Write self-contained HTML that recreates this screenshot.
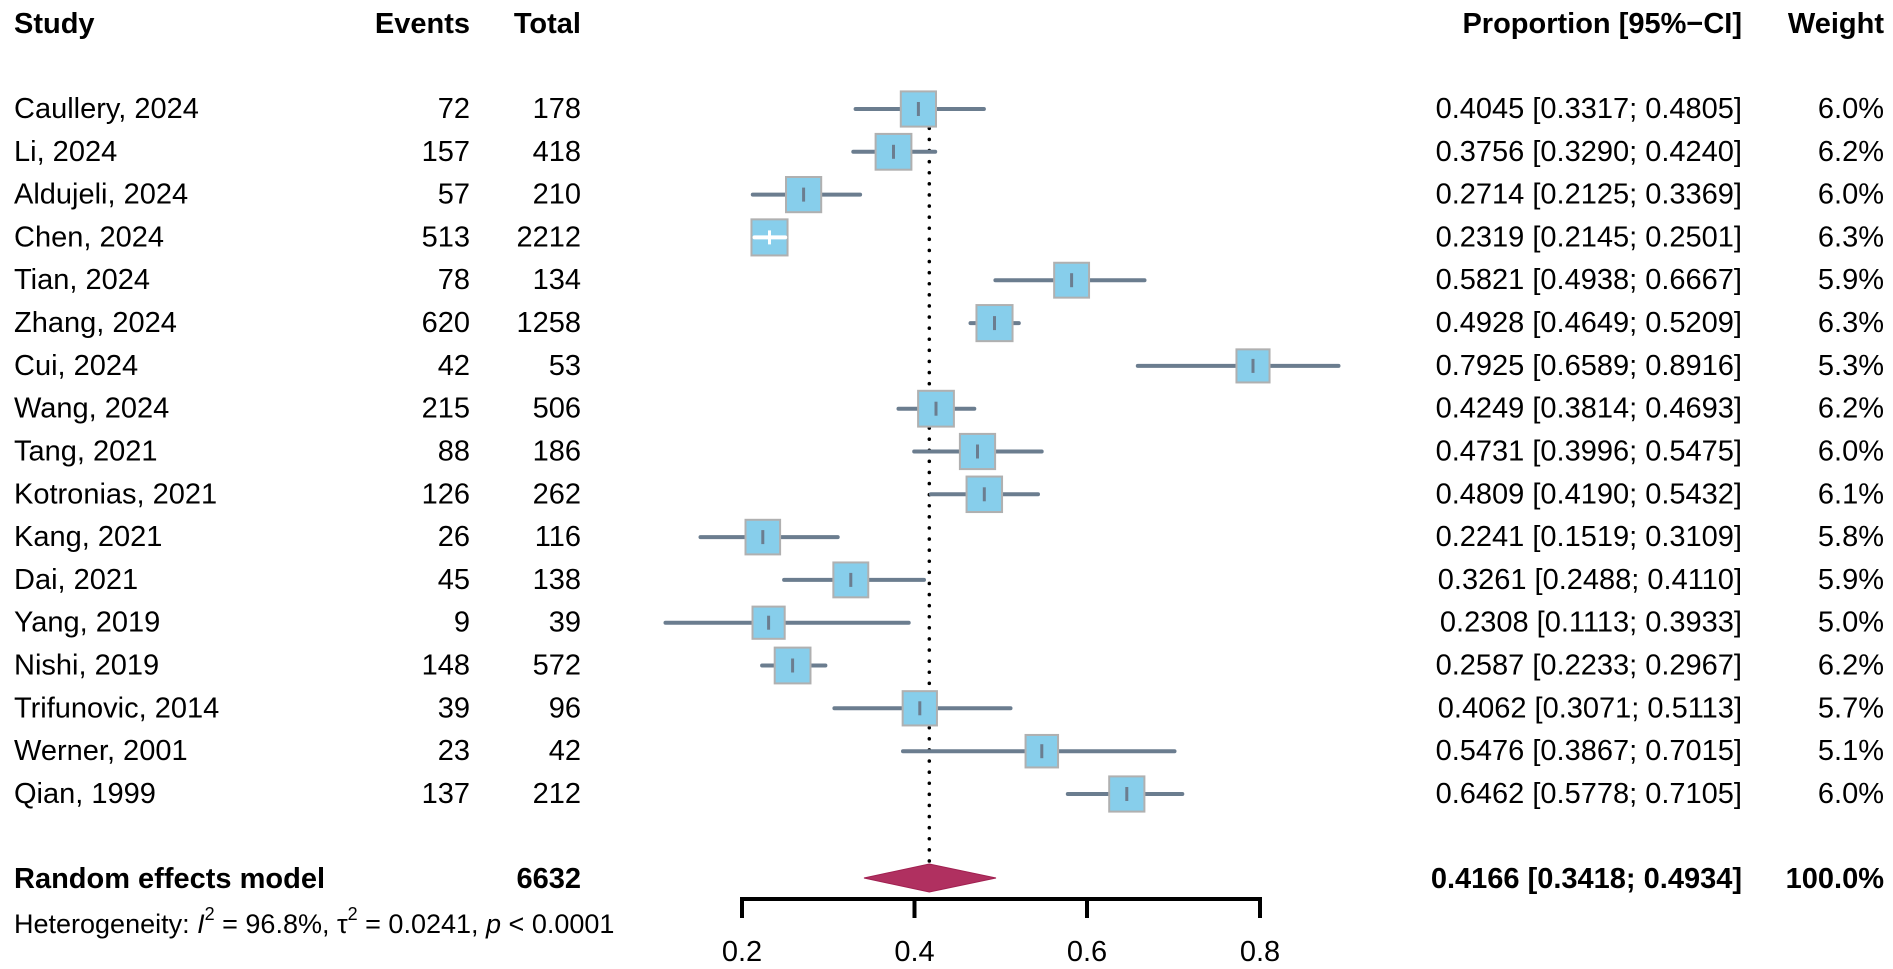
<!DOCTYPE html>
<html><head><meta charset="utf-8"><style>
html,body{margin:0;padding:0;background:#fff;}
svg{display:block;}
text{font-family:"Liberation Sans",Arial,sans-serif;font-size:29px;fill:#000;dominant-baseline:central;}
.b{font-weight:bold;}
.e{text-anchor:end;}
rect{fill:#87ceeb;stroke:#b0b0b0;stroke-width:2;}
.ci{stroke:#6b7d8f;stroke-width:4;stroke-linecap:round;}
.t{stroke:#6b7d8f;stroke-width:3;}
.w{stroke:#fff;}
</style></head><body>
<svg width="1893" height="969" viewBox="0 0 1893 969" xmlns="http://www.w3.org/2000/svg">
<text x="14" y="24" class="b">Study</text>
<text x="470" y="24" class="b e">Events</text>
<text x="581" y="24" class="b e">Total</text>
<text x="1742" y="24" class="b e">Proportion [95%−CI]</text>
<text x="1884" y="24" class="b e">Weight</text>
<line x1="929.3" y1="95" x2="929.3" y2="862" stroke="#000" stroke-width="3.5" stroke-dasharray="0.1 11" stroke-linecap="round"/>

<line class="ci" x1="855.6" y1="109" x2="983.9" y2="109"/><rect x="900.8" y="91.4" width="35.2" height="35.2"/><line class="t" x1="918.4" y1="102" x2="918.4" y2="116"/>
<line class="ci" x1="853.3" y1="151.8" x2="935.2" y2="151.8"/><rect x="875.6" y="133.9" width="35.8" height="35.8"/><line class="t" x1="893.5" y1="144.8" x2="893.5" y2="158.8"/>
<line class="ci" x1="752.8" y1="194.6" x2="860.1" y2="194.6"/><rect x="786" y="177" width="35.2" height="35.2"/><line class="t" x1="803.6" y1="187.6" x2="803.6" y2="201.6"/>
<rect x="751.45" y="219.35" width="36.1" height="36.1"/><line class="ci w" x1="754.5" y1="237.4" x2="785.2" y2="237.4"/><line class="t w" x1="769.5" y1="230.4" x2="769.5" y2="244.4"/>
<line class="ci" x1="995.4" y1="280.2" x2="1144.5" y2="280.2"/><rect x="1054.15" y="262.75" width="34.9" height="34.9"/><line class="t" x1="1071.6" y1="273.2" x2="1071.6" y2="287.2"/>
<line class="ci" x1="970.5" y1="323.1" x2="1018.8" y2="323.1"/><rect x="976.45" y="305.05" width="36.1" height="36.1"/><line class="t" x1="994.5" y1="316.1" x2="994.5" y2="330.1"/>
<line class="ci" x1="1137.8" y1="365.9" x2="1338.5" y2="365.9"/><rect x="1236.45" y="349.35" width="33.1" height="33.1"/><line class="t" x1="1253" y1="358.9" x2="1253" y2="372.9"/>
<line class="ci" x1="898.5" y1="408.7" x2="974.3" y2="408.7"/><rect x="918.1" y="390.8" width="35.8" height="35.8"/><line class="t" x1="936" y1="401.7" x2="936" y2="415.7"/>
<line class="ci" x1="914.2" y1="451.5" x2="1041.7" y2="451.5"/><rect x="959.9" y="433.9" width="35.2" height="35.2"/><line class="t" x1="977.5" y1="444.5" x2="977.5" y2="458.5"/>
<line class="ci" x1="930.9" y1="494.3" x2="1038" y2="494.3"/><rect x="966.55" y="476.55" width="35.5" height="35.5"/><line class="t" x1="984.3" y1="487.3" x2="984.3" y2="501.3"/>
<line class="ci" x1="700.5" y1="537.1" x2="837.7" y2="537.1"/><rect x="745.5" y="519.8" width="34.6" height="34.6"/><line class="t" x1="762.8" y1="530.1" x2="762.8" y2="544.1"/>
<line class="ci" x1="784.1" y1="579.9" x2="924" y2="579.9"/><rect x="833.35" y="562.45" width="34.9" height="34.9"/><line class="t" x1="850.8" y1="572.9" x2="850.8" y2="586.9"/>
<line class="ci" x1="665.5" y1="622.7" x2="908.7" y2="622.7"/><rect x="752.5" y="606.6" width="32.2" height="32.2"/><line class="t" x1="768.6" y1="615.7" x2="768.6" y2="629.7"/>
<line class="ci" x1="762.1" y1="665.5" x2="825.4" y2="665.5"/><rect x="774.7" y="647.6" width="35.8" height="35.8"/><line class="t" x1="792.6" y1="658.5" x2="792.6" y2="672.5"/>
<line class="ci" x1="834.4" y1="708.3" x2="1010.5" y2="708.3"/><rect x="902.65" y="691.15" width="34.3" height="34.3"/><line class="t" x1="919.8" y1="701.3" x2="919.8" y2="715.3"/>
<line class="ci" x1="903" y1="751.2" x2="1174.5" y2="751.2"/><rect x="1025.55" y="734.95" width="32.5" height="32.5"/><line class="t" x1="1041.8" y1="744.2" x2="1041.8" y2="758.2"/>
<line class="ci" x1="1067.8" y1="794" x2="1182.3" y2="794"/><rect x="1109.2" y="776.4" width="35.2" height="35.2"/><line class="t" x1="1126.8" y1="787" x2="1126.8" y2="801"/>

<g>
<text x="14" y="109">Caullery, 2024</text><text x="470" y="109" class="e">72</text><text x="581" y="109" class="e">178</text><text x="1742" y="109" class="e">0.4045 [0.3317; 0.4805]</text><text x="1884" y="109" class="e">6.0%</text>
<text x="14" y="151.8">Li, 2024</text><text x="470" y="151.8" class="e">157</text><text x="581" y="151.8" class="e">418</text><text x="1742" y="151.8" class="e">0.3756 [0.3290; 0.4240]</text><text x="1884" y="151.8" class="e">6.2%</text>
<text x="14" y="194.6">Aldujeli, 2024</text><text x="470" y="194.6" class="e">57</text><text x="581" y="194.6" class="e">210</text><text x="1742" y="194.6" class="e">0.2714 [0.2125; 0.3369]</text><text x="1884" y="194.6" class="e">6.0%</text>
<text x="14" y="237.4">Chen, 2024</text><text x="470" y="237.4" class="e">513</text><text x="581" y="237.4" class="e">2212</text><text x="1742" y="237.4" class="e">0.2319 [0.2145; 0.2501]</text><text x="1884" y="237.4" class="e">6.3%</text>
<text x="14" y="280.2">Tian, 2024</text><text x="470" y="280.2" class="e">78</text><text x="581" y="280.2" class="e">134</text><text x="1742" y="280.2" class="e">0.5821 [0.4938; 0.6667]</text><text x="1884" y="280.2" class="e">5.9%</text>
<text x="14" y="323.1">Zhang, 2024</text><text x="470" y="323.1" class="e">620</text><text x="581" y="323.1" class="e">1258</text><text x="1742" y="323.1" class="e">0.4928 [0.4649; 0.5209]</text><text x="1884" y="323.1" class="e">6.3%</text>
<text x="14" y="365.9">Cui, 2024</text><text x="470" y="365.9" class="e">42</text><text x="581" y="365.9" class="e">53</text><text x="1742" y="365.9" class="e">0.7925 [0.6589; 0.8916]</text><text x="1884" y="365.9" class="e">5.3%</text>
<text x="14" y="408.7">Wang, 2024</text><text x="470" y="408.7" class="e">215</text><text x="581" y="408.7" class="e">506</text><text x="1742" y="408.7" class="e">0.4249 [0.3814; 0.4693]</text><text x="1884" y="408.7" class="e">6.2%</text>
<text x="14" y="451.5">Tang, 2021</text><text x="470" y="451.5" class="e">88</text><text x="581" y="451.5" class="e">186</text><text x="1742" y="451.5" class="e">0.4731 [0.3996; 0.5475]</text><text x="1884" y="451.5" class="e">6.0%</text>
<text x="14" y="494.3">Kotronias, 2021</text><text x="470" y="494.3" class="e">126</text><text x="581" y="494.3" class="e">262</text><text x="1742" y="494.3" class="e">0.4809 [0.4190; 0.5432]</text><text x="1884" y="494.3" class="e">6.1%</text>
<text x="14" y="537.1">Kang, 2021</text><text x="470" y="537.1" class="e">26</text><text x="581" y="537.1" class="e">116</text><text x="1742" y="537.1" class="e">0.2241 [0.1519; 0.3109]</text><text x="1884" y="537.1" class="e">5.8%</text>
<text x="14" y="579.9">Dai, 2021</text><text x="470" y="579.9" class="e">45</text><text x="581" y="579.9" class="e">138</text><text x="1742" y="579.9" class="e">0.3261 [0.2488; 0.4110]</text><text x="1884" y="579.9" class="e">5.9%</text>
<text x="14" y="622.7">Yang, 2019</text><text x="470" y="622.7" class="e">9</text><text x="581" y="622.7" class="e">39</text><text x="1742" y="622.7" class="e">0.2308 [0.1113; 0.3933]</text><text x="1884" y="622.7" class="e">5.0%</text>
<text x="14" y="665.5">Nishi, 2019</text><text x="470" y="665.5" class="e">148</text><text x="581" y="665.5" class="e">572</text><text x="1742" y="665.5" class="e">0.2587 [0.2233; 0.2967]</text><text x="1884" y="665.5" class="e">6.2%</text>
<text x="14" y="708.3">Trifunovic, 2014</text><text x="470" y="708.3" class="e">39</text><text x="581" y="708.3" class="e">96</text><text x="1742" y="708.3" class="e">0.4062 [0.3071; 0.5113]</text><text x="1884" y="708.3" class="e">5.7%</text>
<text x="14" y="751.2">Werner, 2001</text><text x="470" y="751.2" class="e">23</text><text x="581" y="751.2" class="e">42</text><text x="1742" y="751.2" class="e">0.5476 [0.3867; 0.7015]</text><text x="1884" y="751.2" class="e">5.1%</text>
<text x="14" y="794">Qian, 1999</text><text x="470" y="794" class="e">137</text><text x="581" y="794" class="e">212</text><text x="1742" y="794" class="e">0.6462 [0.5778; 0.7105]</text><text x="1884" y="794" class="e">6.0%</text>
</g>

<polygon points="864,878 929.3,864 996,878 929.3,892" fill="#b03060" stroke="#a02050" stroke-width="1"/>
<text x="14" y="879" class="b">Random effects model</text>
<text x="581" y="879" class="b e">6632</text>
<text x="1742" y="879" class="b e">0.4166 [0.3418; 0.4934]</text>
<text x="1884" y="879" class="b e">100.0%</text>
<text x="14" y="924" style="font-size:27px">Heterogeneity: <tspan font-style="italic">I</tspan><tspan dy="-10" style="font-size:18px">2</tspan><tspan dy="10"> = 96.8%, τ</tspan><tspan dy="-10" style="font-size:18px">2</tspan><tspan dy="10"> = 0.0241, </tspan><tspan font-style="italic">p</tspan> &lt; 0.0001</text>
<path d="M742 918V899H1260V918M914.5 899V918M1087 899V918" fill="none" stroke="#000" stroke-width="4"/>
<g text-anchor="middle">
<text x="742" y="952">0.2</text><text x="914.5" y="952">0.4</text><text x="1087" y="952">0.6</text><text x="1260" y="952">0.8</text>
</g>
</svg>
</body></html>
